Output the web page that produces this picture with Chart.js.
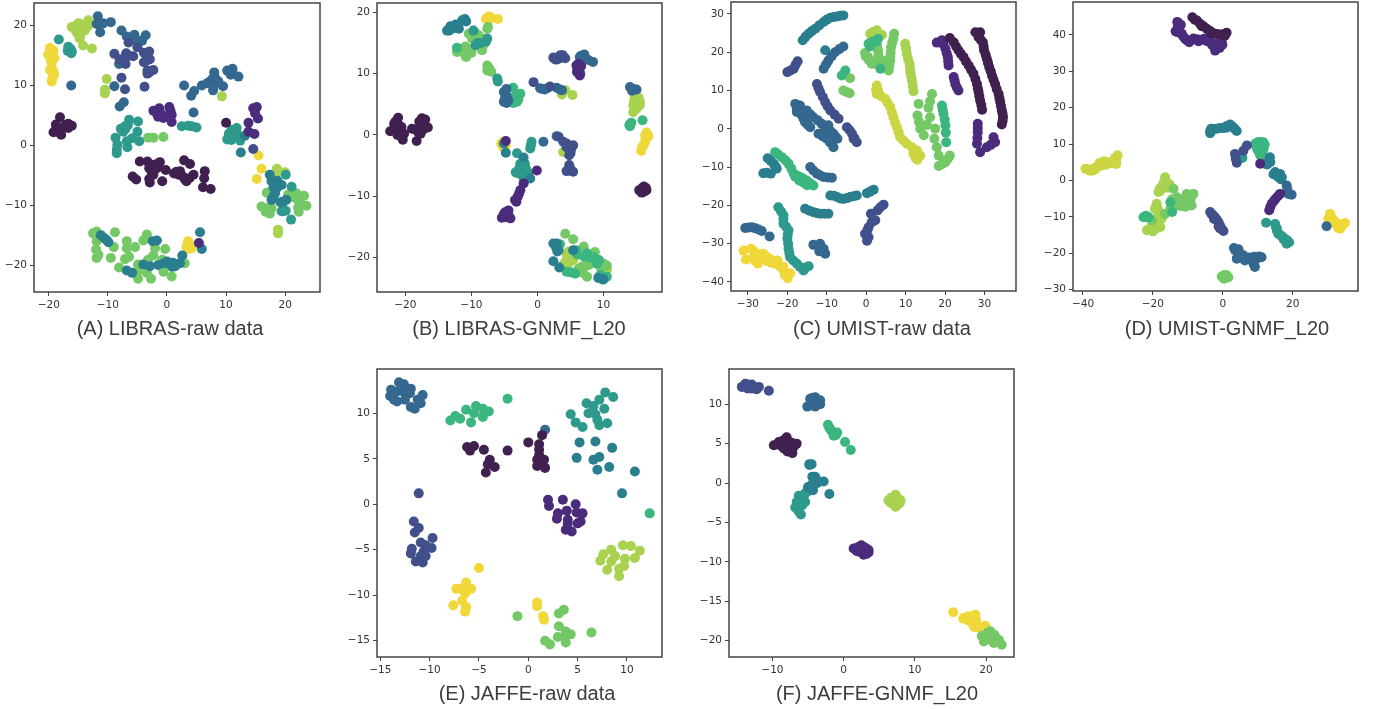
<!DOCTYPE html>
<html>
<head>
<meta charset="utf-8">
<title>t-SNE panels</title>
<script src="https://cdn.jsdelivr.net/npm/chart.js@4/dist/chart.umd.js"></script>
<style>
  html, body { margin: 0; background: #fff; }
  .panel { position: absolute; }
  .caption { position: absolute; font-family: "Liberation Sans", Arial, sans-serif; font-size: 20px; color: #3d3d3d; white-space: nowrap; transform: translateX(-50%); }
</style>
</head>
<body>
<script>
// class colours, dark to bright
const viridis = ['#40204f', '#4a2b7c', '#41508b', '#35688f', '#2a7f8e', '#2e9a8b', '#3bb67f', '#74c866', '#a8d24f', '#ccd542', '#f0d83a'];

const captions = ['(A) LIBRAS-raw data', '(B) LIBRAS-GNMF_L20', '(C) UMIST-raw data', '(D) UMIST-GNMF_L20', '(E) JAFFE-raw data', '(F) JAFFE-GNMF_L20'];

// A: each row of points is x,y,x,y... for the class on the same row of the class list
const aClass = [0, 1, 2, 3, 4, 5, 7, 8, 10];
const aPoints = [
  [-18.1,4.7,-18.8,3.5,-19.2,2.2,-18.6,2.3,-17.9,1.8,-16.7,3.6,-16.1,3.3,-16.7,2.9,-18.7,3,-17.2,3.4,-18.3,2.8,-4.6,-2.7,-3.3,-2.7,-2,-3.2,-1.2,-2.8,-3,-3.8,-1.7,-3.8,-.2,-4.1,-2.3,-4.9,-2.9,-6.2,-5.8,-5.2,-5.2,-5.7,-.8,-6,1.2,-4.7,2.2,-4.3,2.9,-2.5,3.9,-3.1,2.7,-5.2,3.3,-6,4.5,-4.9,6.4,-4.3,6.3,-5.5,6.1,-7,7.4,-7.3,10,3.8,-2.5,-3.4,-1.5,-3.4,-2.6,-4.4,-3,-5.6,2,-4.9,3,-5.6,3.8,-5.5,1.6,-4.4],
  [-1.3,6.2,-2.3,5.8,-.9,5.1,-.6,4.6,.4,6.4,.8,5.1,.8,3.9,14.6,6.2,15.2,6.4,14.9,5.4,15.4,4.5,13.8,3.8,13.8,2.3,14.8,1.9,5.4,-16.3,-1.7,5.3,-1.2,5.6,.6,5.8,-1.5,4.8],
  [-6.5,17.2,-8.9,15.3,-6.9,15.4,-8,14.4,-5.7,14.9,-7,13.6,-5,16.4,-3.9,15.5,-3,15.7,-2.9,14.4,-3.9,13.9,-3.3,12.5,-2.3,12.6,-3.3,12,-7.7,11.3,-7.1,9.4,-3.8,9.8,14.6,-.6,-6.4,15,-7.5,14.2,-3.4,15,-3.4,14.2,-3,12.2],
  [-7.7,19.2,-6.8,18.2,-5.5,18.5,-5.5,17.7,-4.2,17.5,-3.6,18.4,-8.9,9.9,-16.2,10,-8.1,13.6,2.9,10,4.6,9.1,4.1,8.3,5.9,10,6.8,10.4,7.6,11,8.7,10.7,8,12.2,7.8,9.2,9.5,9.9,10.2,12.5,11.1,12.8,10.8,11.8,12.1,11.5,4.5,5.5,-11.7,21.6,-11.3,18.9,-11.9,20.3,-10.8,20.4,-9.5,20.6,-8,6.5,-7.3,7.2,-5.9,18,-4.8,17.5,7.2,10.6,8,10.2,8.2,11.2,7.9,9.8,11,12.2],
  [17.4,-4.9,17.7,-6,18.6,-7.1,19.4,-6.6,18.3,-8,17.7,-9.1,19.7,-9.4,20.2,-9.1,2.6,-18.4,5.6,-14.5,5.9,-17.3,12.5,-1.2,13.2,1.6,-10.6,-15.5,-9.9,-16.2,-6.8,-20.9,-5.9,-21.3,-2.9,-20.2,-1.5,-20,0,-19.4,.5,-19.9,1.4,-20.2,2.2,-19.7,-1.7,-15.9,-2.4,-16,-4,-19.9,18,-7,18.4,-6.3,18,-8.5,19.2,-9.5,18.7,-5.9,-11.2,-15,-10.2,-15.8,-.5,-19.7,.9,-20.3,1,-19.6],
  [-7.1,3.2,-7.4,2.3,-6.4,4.3,-4.9,4,-5,2.3,-8.7,1.3,-5.9,1.2,-6.8,.7,-6.7,-.3,-8.4,.1,-8.5,-.7,-8.5,-1.3,-4.7,.7,2.5,3.2,3.6,3.3,4.2,3.2,5,3,10.4,1.4,11.2,2.1,11.8,2.9,10.9,.9,12.4,.8,10.2,1,-16.6,16,-16.7,16.5,-16.1,15.7,-18.3,17.7,19.4,-11,20.1,-10.9,21,-12.4,21.1,-6.9,20.1,-4.9,-7,2.8,-6.6,3.4,-7.8,2.8,11,1.5,10.5,2,11.4,1.3,11.8,2.1,11,2.6,-16.3,16.1,-16.8,15.8,-16.2,15.4,19.7,-11],
  [-3.2,1.3,-2.3,1.3,-.6,1.4,16,-10.2,16.9,-10.5,17.7,-10.5,17.4,-11.4,20.5,-8.2,21.9,-8,23.2,-8.4,22.2,-9.1,23.6,-10.1,22.3,-11.1,22.2,-10.4,16.9,-7.9,-11.9,-14.4,-12.5,-14.7,-11.9,-16,-12,-17.4,-11.6,-18.3,-11.9,-18.8,-8.8,-14.5,-9,-17,-6.8,-16,-6.8,-17.2,-5.4,-17,-3.4,-14.9,-4,-15.9,-6.4,-18.6,-7.1,-19,-9.5,-18.8,-8.1,-20.4,-4.9,-19.9,-5,-21.1,-4.9,-22.3,-3.4,-21.3,-2.7,-22.3,-3.2,-19.1,-2.3,-18.4,-2,-17.2,-.3,-17.3,-.6,-21.1,.8,-21.9,-.8,-19.1,3,-19.7,16.7,-11.1,22.5,-8.9,21.5,-8.7],
  [-16.1,19.8,-15,20.4,-13.3,20.9,-15.5,19.3,-14.7,18.8,-14.2,19.6,-13.4,19.9,-14.8,17.9,-14.2,16.7,-12.7,16.2,-10.2,11.1,-10.5,9.3,-10.5,8.7,9.3,8.2,18.8,-14.1,18.8,-14.7,18.6,-3.9,20,-4.5,18.4,-4.9,-15.3,20,-14.7,19.3,-13.9,19.2,-14.5,20.2,-13.5,20.2,-15.2,18.8,-14.7,18.2,-15.6,19.9],
  [-19.8,16.3,-20.1,15.2,-19,14.6,-19.5,13.8,-19.8,12.6,-19.1,11.8,-19.5,10.7,-19.7,15.6,15.5,-1.7,16,-3.9,15.2,-5.6,3.6,-16,3.3,-17,4.2,-17.2,-19.5,13,-19.7,14.3,-19.2,12.3,-19.4,11.2,-19.2,15.8,3.9,-16.6,3.5,-16.5,4,-16.9,3.7,-17.3]
];

const bClass = [0, 1, 2, 3, 4, 5, 6, 7, 8, 10];
const bPoints = [
  [-21.1,2.8,-21.7,1.8,-21,1.6,-22.3,.6,-21.5,.8,-20.7,.5,-21.2,0,-20.2,.2,-20.4,-.8,-19,1,-18.3,-1,-17.5,2.7,-17,2.5,-17.7,1.6,-18.1,.5,-16.6,1.2,-17.2,1,-17.7,.2,15.8,-8.7,16.5,-9,15.8,-9.4,15.4,-9,16.1,-8.4,-21.5,2.2,-20.9,1,-20.6,1.3,-21,.4,-20.6,-.3,-17.9,2.2,-17.4,.8,-17.8,1.2,-18.5,.9,15.9,-9,16.2,-9.2,16.4,-8.6,15.6,-9.2],
  [-4.9,-13.4,-5.4,-13.5,-4.4,-12.3,-4.1,-13.6,-4.9,-12.6,-3.4,-10.6,-3,-10.1,-2.6,-9,-2.1,-7.9,-4.8,-1,-.1,-5.8,6.2,11.6,6.4,9.7,6.3,10.8,-4.7,-13,-4.4,-13,-5.1,-12.9,-4.6,-12.7,-3.2,-10.9,-2.8,-9.6,6.6,11.2,5.9,11.3,6,10.2],
  [2.4,12.6,3.2,12.7,3.8,13,2.7,12.3,3.4,12.5,-.6,8.6,1.9,7.9,4.8,-5.8,5.4,-6,4.8,-4.9,4.4,-5.9,4.7,-2,4.8,-3.3,5.4,-1.7,3.9,-1.1,3.2,-.3,3,12.3,3.5,13,4.2,12.5,5,-3,5.1,-2.2,4.4,-2,4.9,-5.3,4.4,-1.4,5,-2.6],
  [6.4,12.7,7.2,12.4,7.7,12.2,8.4,11.9,6,10.5,.7,7.5,.4,7.6,2.9,7.7,3.7,7.3,.9,-1.1,14,7.8,14.5,7.5,15,7.4,2.9,-.2,-5.1,7,-5.1,5.4,-4.4,5.6,-4.7,7.5,6.8,12.1,6.6,12.9,7.1,13.1,6.5,10,1.1,7.4,1.5,7.6,3.4,7.4,14.3,7.2,-4.7,6.4,-4.9,6.1,-4.7,5.2],
  [-13.7,17,-13.2,17.7,-12.4,18,-11.9,17.3,-11,18.9,-11.4,18.7,-13.4,17,2.4,-17.7,2.9,-17.7,3.2,-18.8,2.4,-20.6,3.3,-21.6,-4.8,-2.9,-5.1,-1.4,-2.1,-3.7,-1.1,-7.1,5.4,-18.8,9.2,-23.3,10,-23.5,-12.7,17.4,-13.1,17.3,-12,17.8,-12.3,17.6,-10.8,18.5,2.8,-18.3,3,-19],
  [-3.1,-3,-1,-1.7,-.9,-1.1,-1.1,-2.2,-2.6,-4.7,-1.9,-4.7,-2.4,-5.5,-3.1,-6.2,-1.9,-6.3,-1.4,-6.3,-2.6,-6.3,-2.2,-6.8,-9.4,14.6,-9.7,17,-7.6,15.7,-6.1,9.2,-6,8.7,-2.6,-5.1,-2.2,-6,-3.3,-6.1,-2.8,-5.6,-1.8,-5.4,-1.6,-5.9,-9,15,-7.8,15.2,-8.6,15],
  [-3.7,7.7,-2.6,6.7,-3.9,5.9,-3.1,5.4,-3.4,5.7,14,1.7,13.9,1.6,15.9,2.4,-12.2,14.2,10,-23.1,10.5,-23.1,9,-21,8.5,-19.9,7.5,-19.3,4.4,-22.3,5.7,-22.6,3.4,-17.8,5.9,-18.8,-3.4,6.2,-3.2,6.6,-2.9,5.8,-3.7,5.2,14,1.4,14.2,2,7,-19.8,8,-20,9.3,-20.4,9.5,-22.8,9.9,-23.6,5,-22.4,6,-19.5],
  [-11.4,13.5,-10.8,12.7,-12.2,13.5,-10.4,13.8,-10.9,14.4,-10.4,16.5,-9.7,16.2,-8.9,16.2,-9.9,15.7,-7.6,17.3,-8.4,13.8,-7.6,11.3,-7.6,10.5,-7,10.3,4.2,-16.1,5.4,-17,7,-18.2,7.8,-21.2,6.7,-21.5,7.5,-23.1,10,-21,10.5,-21.3,8.7,-19.1,6.2,-21.8,-11,13.2,-11.6,14,-10.6,13.2,-11,13.9,-10,13.4,-9.4,16.6,-9.5,15.9,-8.6,15.8,-7.5,17.6,-7.3,10.8,6.9,-22.5,7.2,-21.3,9.6,-21.6],
  [14.7,6.2,15.5,5.4,14.5,4.8,15.2,4.6,14.5,3.7,14.7,5.4,4.7,-19,5.4,-20.4,4.4,-20.4,4,-21,10.5,-22,3.9,-2.8,3.7,6.6,4.2,7.3,5.3,6.5,-8.2,14.6,15,5.7,15.3,6.1,14.6,5.3,15.5,4.9,14.9,4.2,14.7,4.9,15.1,5,4.4,-19.4,5,-20.1,4.7,-20.9],
  [-7.6,19.1,-7.1,19.2,-6,18.9,-7.8,18.9,-5.1,-1.7,-5.5,-1.4,-4.8,-1.7,-5.2,-2,16.3,-.1,16.8,-.2,16.3,-1.1,15.8,-2,15.7,-2.6,16.5,.4,-7.4,19.3,-7.3,18.8,-5.2,-1.1,-5,-1.4,16.4,-.6,16.1,-1.6,16.6,0]
];

const cClass = [0, 0, 1, 2, 3, 4, 5, 6, 7, 8, 9, 10];
const cPoints = [
  [27.7,25.2,28.9,25.2,28.5,23.9,29.1,23.2,29.6,22.6,29.8,21.5,29.9,20.5,30.3,19.3,30.6,18.3,30.9,17.2,31.2,16.1,31.6,15,31.9,13.9,32.3,12.8,32.7,11.7,33.1,10.4,33.6,9.1,33.8,8,34,7,34.2,5.9,34.4,4.8,34.6,3.9,34.7,3,34.6,2,34.4,1.1],
  [21.2,23.7,22.2,22.6,22.8,21.5,23.4,20.5,24,19.6,24.7,18.7,25.3,17.6,26,16.5,26.6,15.4,27.2,14.4,27.7,13,28.1,11.7,28.3,10.6,28.5,9.6,28.7,8.5,28.9,7.4,29.2,6.2,29.4,5],
  [19.2,23.1,17.9,22.5,19.6,22,20.1,20.9,20.4,19.8,20.7,18.7,20.8,17.6,20.9,16.5,22.2,13.5,22.4,12.6,22.6,11.7,23,10.8,23.4,10,28.3,1.3,28.3,.2,28.3,-.9,28.2,-2.4,28.1,-3.9,28.9,-6.1,30.6,-4.8,31.6,-4.2,32.7,-3.5,32.3,-2.2],
  [-20,14.8,-18.4,15.7,-19.2,15.2,-17.9,16.7,-17.4,17.6,-12.5,11.7,-12.1,10.6,-11.7,9.6,-11,8.3,-10.4,7,-9.8,5.9,-9.1,4.8,-8,3.7,-7,2.6,-4.9,.4,-4.2,-.4,-3.6,-1.3,-3,-2.4,-2.4,-3.5,-3.2,-2.6,.3,-26.5,.6,-25.7,1.4,-24.4,2.3,-23.9,1.2,-22.2,2.9,-21.3,3.6,-20.5,4.4,-19.8,.6,-28.3,.2,-29.2,-.3,-27.4],
  [-10.8,15.7,-10.2,16.8,-9.6,17.8,-8.8,18.9,-7.9,20,-6.8,20.8,-5.8,21.5,-14.2,-10,-13.4,-10.9,-12.5,-11.7,-11.6,-12.2,-10.8,-12.6,-9.7,-12.7,-8.7,-12.8,-30.7,-25.9,-29.9,-25.8,-29,-25.7,-28.1,-26,-27.3,-26.3,-26.5,-26.7,-24.5,-28.1,-13.4,-30.3,-11.7,-30,-10.8,-31.3,-10.4,-32.6,-11.9,-32,-18,6.5,-16.8,6.1,-17.6,5.4,-17.6,4.4,-16.3,3.5,-15.9,2.6,-15.5,1.7,-14.8,1,-14.2,.4,-15.1,4.8,-14.2,3.8,-13.4,3,-12.3,2.2,-11.3,1.3,-10.6,.6,-10,0,-9.1,-.6,-8.3,-1.3,-7.8,-2,-7.3,-2.6,-12.1,-1.3,-11,-2,-10,-2.6,-9.2,-3.6,-8.3,-4.8,-9.6,.9],
  [-25,-7.7,-24.2,-8.4,-23.5,-9.1,-23,-9.8,-22.7,-10.4,-26.1,-11.6,-25.2,-11.5,-24.2,-11.7,-10.4,20.5,-9.1,-17.4,-8.2,-17.5,-7.4,-17.8,-6.6,-18.2,-5.8,-18.3,-4.9,-18.1,-4.1,-17.8,-3.2,-17.6,-2.4,-17.4,.2,-16.8,1,-16.4,1.9,-15.9,-15.5,-20.9,-14.4,-21.4,-13.4,-21.8,-12.6,-22,-11.7,-22.2,-10.6,-22.2,-9.6,-22.2,-16.1,23.1,-15.4,24,-14.6,24.8,-13.8,25.5,-12.9,26.1,-11.9,27,-10.8,27.9,-10,28.5,-9.1,29,-8.2,29.2,-7.4,29.3,-6.6,29.5,-5.8,29.6],
  [-22.3,-20.5,-21.6,-21.6,-21,-22.6,-21,-23.6,-21,-24.8,-20.3,-25.6,-19.7,-26.5,-19.9,-27.6,-20,-28.7,-19.8,-30,-19.7,-31.3,-19.5,-32.4,-19.3,-33.5,-18.5,-34.4,-17.6,-35.2,-16.8,-36.1,-15.9,-37,-14.6,-35.9,-15.3,-36.2],
  [-23.1,-6.1,-22.3,-6.7,-21.4,-7.4,-20.5,-8.2,-19.7,-9.1,-19,-10.4,-18.4,-11.7,-17.6,-12.2,-16.8,-12.6,-16,-13,-15.1,-13.5,-14.2,-14.2,-13.4,-14.8,-6.2,13.9,-5.3,15.2,.6,22.2,3.6,15.7,19.6,3.9,19.2,6.1,19.4,5,19.9,2.4,20.1,.9,20.2,-1,20.3,-3.5,-17,-13.5,-16,-14,-15,-14.7,-18,-12.5,.9,21.5,1.6,22.8,2.6,22.8,3,23.5],
  [-4.1,13.2,-5.8,10,-4.2,9.3,-5,9.6,-.3,19.8,.4,18.8,1,17.8,1.4,17,2.7,21.8,3.1,19.1,3,20.4,4,17.8,5.7,15.2,6.1,17.8,5.9,16.5,6.3,21.3,6.2,20,7.1,24.8,13.3,6.5,13,3.5,13.4,1.8,13.7,0,14.6,-1.7,15.8,5.5,16.7,9.1,16.2,7.2,16.2,3,15.4,1,17.5,0,17.3,-2.6,17.9,-4.8,18.4,-7,18.4,-9.7,19.3,-9.2,20.1,-8.7,20.7,-7.8,21.2,-7,-.1,18.9,.7,17.9,2.2,17,2.8,21,3.4,18.2,4.8,16.8,4.9,15.9,6.1,18.9,6.9,23.5,6.6,22.5],
  [1,24.8,2.7,25.7,4,24.5,1.8,25.3,9.9,22.2,10.1,21,10.3,19.6,10.6,18.3,11,17,11.1,15.9,11.2,14.8,11.4,13.7,11.6,12.6,11.8,11.2,12,9.8,1.4,24,2,24.6,3,24.3],
  [2.7,11.3,2.7,9.1,3.8,8.5,4.8,7.8,5.4,6.8,6.1,5.7,6.5,4.3,6.9,3,7.3,1.7,7.8,.4,8.2,-.9,8.6,-2.2,9.4,-3,10.3,-3.9,11.6,-4.8,12.9,-5.7,13,-6.9,13,-8.1,12.5,-7,12,-6.5,13.7,-7,12.5,-7.6,3,10,2.5,10.2],
  [-31.1,-31.8,-29.2,-31.3,-30.5,-34.1,-28.5,-32,-27.7,-32.6,-27.5,-35.2,-27.2,-33.8,-26.1,-32.6,-25.4,-33.3,-24.5,-33.9,-23.8,-34.6,-23.1,-35.2,-22.5,-34.4,-21.8,-36,-21,-37,-20.1,-37.9,-19.9,-39,-19.3,-37.7,-28.5,-33.5,-26.5,-34,-25.2,-34.5,-24,-35,-28.2,-34.5,-21,-36,-20.6,-38.3]
];

const dClass = [0, 1, 1, 2, 3, 4, 5, 6, 7, 8, 9, 10];
const dPoints = [
  [-8.7,44.9,-7.4,44,-6.5,43.1,-5.5,42.4,-4.6,41.7,-3.6,41.1,-2.7,40.5,-1.7,40.3,-.8,40.1,.2,40.2,1.1,40.6,-8,44.2,-6,42.4,-3.2,40.5,.6,39.8],
  [-8.4,39,-7.4,38.8,-6.5,38.5,-5.7,38.8,-5,39,-4.3,38.5,-3.6,38,-2.9,37.8,-2.2,37.6,-7,38.3,-4.5,38.3,-3,37.2],
  [-12.7,43.1,-12.9,42,-13.1,40.8,-12.3,41,-11.7,40.3,-11.3,39.6,-10.8,39,-10.2,38.5,-9.6,38,-.3,38,-.8,37.3,-1.2,36.7,-1.7,36.2,-2.2,35.7,13.3,-8.2,13.6,-7.3,14,-6.4,14.5,-5.8,15,-5.2,15.7,-4.4,16.4,-3.7,10.7,4.6,-13.5,41,-12.5,40.7,-12,42.8,-13,43.6,-.9,36.4,-.1,37.3],
  [-3.6,-8.7,-2.9,-9.4,-2.2,-10.1,-1.7,-10.8,-1.2,-11.5,-.8,-12.4,-.3,-13.3,.2,-13.9,3.5,7.3,4,4.9,3.7,6,6.9,9.6,5.9,8.2,-3.2,-9.3,-.8,-13.2,-1.2,-12.6,-2.5,-10.6],
  [29.7,-12.6,18.3,-1.4,18.5,-2.5,18.8,-3.7,19.7,-3.9,3.5,-19.2,4.5,-19.7,5.9,-20.6,4,-21.5,5.2,-21,6.9,-21.5,8.3,-22,9.2,-23.8,8.8,-22.9,11.1,-21.1,9.7,-21.5,3.2,-18.6,5.2,-20.4,6,-21,7.5,-21.2,4.7,-20.9,6.3,-22,4.5,-18.9,10.4,-20.9,9,-21,8.9,-23],
  [-3.6,13.7,-2.7,14.1,-1.7,14.2,-.8,14.4,.2,14.4,1.2,15,2.1,15.4,3,14.6,4,13.6,-3.6,13,15,2.3,16.4,1.8,15.9,.9,16.9,.9,14.5,1.7,13,5,12,4.6,13.5,6.4,-3.3,14.2,1,14.5,2.6,14.9,3.4,14.2,15.2,1.7,15.8,1.3,16.7,.3,13.6,5,12.7,4.4],
  [12.4,-11.6,15.2,-12.8,15.5,-13.8,15.9,-14.7,16.6,-15.1,17.3,-15.6,18.2,-16.3,19,-17,18.3,-17.4,5.6,6.2,15,-12,15.5,-13.2,17.4,-16.2,18.5,-16.6],
  [9.7,9.6,11.6,10.5,11.1,9.2,10.7,6.9,11.6,6.4,9.2,10,10.5,10.6,-22.7,-10.1,-21.2,-10.1,-15,-6,-14.5,-8.7,10,10.5,10.2,9,10.9,8.5,12,9.9,11.3,7.8,10.2,8,9.8,8.7,11.7,8.7,-21.8,-10.1,-22,-9.7],
  [-.3,-26.4,1.1,-26.1,1.6,-26.6,.4,-27,-13.1,-6.4,-11.2,-6.4,-9.3,-5.5,-10.3,-3.7,-8.4,-3.7,-8.9,-6.9,-14.1,-2.3,-13.1,-4.6,-15,-7.8,-20.3,-11,-16.5,-9.2,-12.2,-6.8,-12,-7,-10,-6,-11,-5,-9,-4.5,-12,-5.8,-10.7,-7.2,-13.5,-7,-14.5,-5.2,0,-26.7,1,-26.6,.5,-26],
  [-18.9,-6.4,-19.4,-7.8,-18.4,-9.2,-18.4,-11,-20.8,-13.3,-19.4,-13.3,-21.7,-13.7,-17.9,-12.8,-16.5,.9,-16,-.5,-17.4,-1.8,-18.4,-3.2,-15.2,-1.1,-17.9,-2.8,-19,-7,-18.5,-8,-19,-12.8,-20.5,-12.8,-18.5,-13,-20,-14,-17.5,-10.5,-17.4,-9.6,-17,-.8,-18,-2.2,-16.2,-.8,-15.8,-2],
  [-39.3,3.2,-38.3,3,-37.4,2.7,-36,3.7,-34.6,4.6,-33.7,4.8,-32.7,5,-31.6,5.2,-30.5,5.5,-30.1,6.9,-36.7,3.4,-35.3,4.8,-38,2.7,-36.5,3,-35,4,-33.5,4.3,-32,4.8,-30.5,4.5,-30.8,6.2,-34,5.3],
  [30.7,-9.2,30.2,-10.5,31.6,-11.5,32.6,-12.4,33.5,-13.3,35,-11.7,34,-12.4,31,-10,31.3,-10.6,32.1,-11.2,33,-13,33.8,-13.1,34.6,-12,30.6,-10.7,33.2,-12]
];

const eClass = [0, 1, 2, 3, 4, 5, 6, 7, 8, 10];
const ePoints = [
  [-6.2,6.3,-5.9,5.9,-5.5,6.4,-4.5,6,-2.1,5.9,-3.9,4.9,-4.1,4.4,-3.4,4.1,-4.3,3.5,0,6.8,1.4,7.6,1.1,6.6,1.1,6,1.1,5.4,.9,4.9,1.6,4.9,.9,4.2,1.7,4],
  [2,.5,2.1,-.2,3.5,.5,4.8,0,3,-1,2.9,-1.6,3.9,-.7,4.9,-.9,5.5,-1,4,-1.7,5.3,-1.9,3.8,-2.8,4.4,-3,4,-2.1,5,-2.1],
  [-11.1,1.2,-11.6,-1.9,-11.1,-2.6,-11.5,-3.1,-9.7,-3.7,-10.9,-4.2,-10.4,-4.5,-11.8,-4.9,-9.8,-4.8,-11.9,-5.4,-10.6,-5.2,-10.9,-5.7,-11.4,-6.3,-10.4,-5.7,-10.7,-6.4],
  [-13.1,13.4,-12.6,13.2,-13.9,12.6,-11.9,12.7,-13.3,12.4,-12.7,12.4,-14,11.9,-12,12.2,-13.6,11.5,-13.3,11.3,-12.5,11.5,-10.7,12,-11.2,11.5,-10.9,11.1,-11.9,10.7,-11.5,10.5,1.7,8.2],
  [8.5,6.2,5.2,6.8,6.8,6.9,4.9,5.1,6.6,4.9,7.2,5.2,7,3.8,8.2,4.1,10.8,3.6,9.5,1.2],
  [4.3,9.9,4.8,9,5.5,8.5,5.9,11.1,6.6,10.8,6.1,10,6.8,9.9,7,9.3,7.2,8.7,8,8.9,7.7,10.5,7.2,11.5,7.8,12.3,8.6,11.8],
  [-2.1,11.6,-7.9,9.2,-7.4,9.7,-6.9,9.4,-6.3,10.4,-5.8,9,-5.3,10.8,-5.5,10,-4.6,10.5,-4,10.2,-4.6,9.6,12.3,-1],
  [-1.1,-12.3,3.1,-12,3.6,-11.6,3.1,-13.4,3.8,-14,3,-14.6,4.3,-14.3,3.8,-15.2,1.7,-15,2.2,-15.4,6.4,-14.1,3.6,-14.6],
  [9.6,-4.5,10.4,-4.6,11.3,-5.1,8.4,-5,7.6,-5.5,8.8,-5.7,10.8,-5.9,9.8,-6,7.3,-6.2,8.4,-6.3,9.7,-6.8,8,-7.2,9.2,-7.1,9.2,-7.9],
  [-5,-7,-6.3,-8.6,-7.3,-9.3,-6.8,-9.3,-5.8,-9.3,-6.4,-9.8,-6.7,-10.6,-7.6,-11.1,-6.3,-11.3,-6.4,-11.8,.9,-10.8,.9,-11.2,1.5,-12.3,1.6,-12.7]
];

const fClass = [0, 1, 2, 3, 4, 5, 6, 7, 8, 10];
const fPoints = [
  [-9.8,4.8,-9.1,5.2,-8,5.8,-8.2,5,-8.7,4.7,-7.3,5.1,-6.6,5,-8,4.3,-7.2,3.8,-8.5,5.4,-7.6,4.6,-9.3,4.9,-8.4,4.4,-7.8,5.3,-8.9,5.2,-7.9,4,-8.6,5.3,-7,4.6],
  [1.4,-8.3,2.1,-8.1,2.8,-8.1,3.5,-8.5,2.8,-9.1,2.1,-8.7,3.5,-8.8,2.8,-8.5,1.9,-8.3,2.4,-8.6,3.2,-8.3,3,-8.8,2.5,-7.9,1.8,-8.6,3.2,-9],
  [-13.8,12.6,-14.3,12.2,-13.3,12.2,-12.6,12,-11.9,12.2,-12.9,12.5,-10.5,11.7,-13.5,12,-13,12,-12.2,11.9,-14,12.3,-13.5,12.5],
  [-5.1,9.7,-4.7,10.7,-4,10.9,-3.3,10.5,-3.3,10,-4.2,10.2,-4.5,10.2,-3.9,10.4,-3.5,10.2,-4.4,10.8,-3.8,10.1,-4,9.7],
  [-4.8,2.4,-4.4,.8,-4,.8,-4.6,-.3,-2.8,.2,-4.3,-.9,-3.7,0,-2,-1.4,-4.8,2.3,-4.5,2.4,-4.3,0,-5,-.5,-3.9,.6],
  [-5.4,-1.3,-6.3,-1.6,-6.6,-2.4,-5.4,-2.4,-6.8,-3.1,-6.3,-3.6,-6,-4,-5.8,-2.8,-6,-1.9,-6.5,-2.9,-6.1,-2.4,-5.6,-1.7,-6.5,-3.3,-5.1,-1.1],
  [-2.2,7.4,-1.9,6.9,-1.4,6.4,-.9,6.4,-1.4,6,.2,5.2,1,4.2,-2,7,-1.7,6.6,-1.1,6.1],
  [19.4,-19.4,19.7,-20.1,20.6,-18.8,21.3,-19.5,21.1,-20.3,21.8,-19.9,22.2,-20.5,20.2,-19,20.9,-19.6,21.1,-19.2,20.3,-19.8,21.6,-20.2,19.8,-19.7],
  [6.3,-2.2,7.3,-1.5,8,-2.2,7.3,-3,6.8,-2.6,7.7,-2.7,7,-1.8,6.9,-2.2,7.4,-2.1,7.6,-1.9,6.6,-2.5,7.9,-2.5,7.2,-2.8,7.1,-2.4,7.7,-2.2,6.6,-1.9],
  [15.4,-16.4,16.8,-17.2,17.4,-17.4,18.5,-16.7,18.6,-17.4,18.7,-18.2,19.9,-18.1,17.5,-16.9,18.4,-17.2,18,-17.2,18.2,-18,19,-18.3,16.9,-17.1,18.4,-18.3]
];

const aXTicks = [-20, -10, 0, 10, 20];
const aYTicks = [-20, -10, 0, 10, 20];
const bXTicks = [-20, -10, 0, 10];
const bYTicks = [-20, -10, 0, 10, 20];
const cXTicks = [-30, -20, -10, 0, 10, 20, 30];
const cYTicks = [-40, -30, -20, -10, 0, 10, 20, 30];
const dXTicks = [-40, -20, 0, 20];
const dYTicks = [-30, -20, -10, 0, 10, 20, 30, 40];
const eXTicks = [-15, -10, -5, 0, 5, 10];
const eYTicks = [-15, -10, -5, 0, 5, 10];
const fXTicks = [-10, 0, 10, 20];
const fYTicks = [-20, -15, -10, -5, 0, 5, 10];

const axisColor = '#444';
const frame = {
    id: 'frame',
    afterDraw(chart) {
        const { ctx, chartArea: a } = chart;
        ctx.save();
        ctx.strokeStyle = axisColor;
        ctx.lineWidth = 1.5;
        ctx.strokeRect(a.left, a.top, a.right - a.left, a.bottom - a.top);
        ctx.restore();
    }
};

function axis(range, ticks, fit) {
    return {
        min: range[0],
        max: range[1],
        afterBuildTicks: s => { s.ticks = ticks.map(v => ({ value: v })); },
        afterFit: fit,
        grid: { drawOnChartArea: false, drawTicks: true, tickLength: 4, tickColor: axisColor, tickWidth: 1 },
        border: { display: false },
        ticks: {
            autoSkip: false,
            maxRotation: 0,
            padding: 3,
            color: '#333',
            font: { family: 'DejaVu Sans', size: 10.5 },
            callback: v => String(v).replace('-', '\u2212')
        }
    };
}

function drawPanel(box, xRange, yRange, xTicks, yTicks, classes, points, caption, capX, capY) {
    const pad = 14, left = 40, bottom = 26;
    const wrap = document.createElement('div');
    wrap.className = 'panel';
    wrap.style.left = (box[0] - left) + 'px';
    wrap.style.top = (box[1] - pad) + 'px';
    const canvas = document.createElement('canvas');
    const w = box[2] - box[0] + left + pad, h = box[3] - box[1] + pad + bottom;
    canvas.width = w;
    canvas.height = h;
    canvas.style.width = w + 'px';
    canvas.style.height = h + 'px';
    wrap.appendChild(canvas);
    document.body.appendChild(wrap);

    new Chart(canvas.getContext('2d'), {
        type: 'scatter',
        data: {
            datasets: classes.map((c, i) => {
                const flat = points[i], pts = [];
                for (let k = 0; k < flat.length; k += 2) pts.push({ x: flat[k], y: flat[k + 1] });
                return { data: pts, backgroundColor: viridis[c], borderWidth: 0, pointRadius: 5 };
            })
        },
        options: {
            responsive: false,
            animation: false,
            layout: { padding: { left: 0, top: pad, right: pad, bottom: 0 } },
            plugins: { legend: { display: false }, tooltip: { enabled: false } },
            scales: {
                x: axis(xRange, xTicks, s => { s.height = bottom; }),
                y: axis(yRange, yTicks, s => { s.width = left; })
            }
        },
        plugins: [frame]
    });

    const label = document.createElement('div');
    label.className = 'caption';
    label.textContent = caption;
    label.style.left = capX + 'px';
    label.style.top = capY + 'px';
    document.body.appendChild(label);
}

drawPanel([34, 3, 320, 292], [-22.5, 25.9], [-24.5, 23.8], aXTicks, aYTicks, aClass, aPoints, captions[0], 170, 317);
drawPanel([377, 3, 662, 292], [-24.3, 18.85], [-25.6, 21.5], bXTicks, bYTicks, bClass, bPoints, captions[1], 519, 317);
drawPanel([731, 2, 1016, 291], [-34.3, 38], [-42.35, 33.1], cXTicks, cYTicks, cClass, cPoints, captions[2], 882, 317);
drawPanel([1073, 2, 1358, 291], [-42.86, 38.7], [-30.4, 49.07], dXTicks, dYTicks, dClass, dPoints, captions[3], 1227, 317);
drawPanel([377, 369, 662, 657], [-15.33, 13.55], [-16.79, 14.87], eXTicks, eYTicks, eClass, ePoints, captions[4], 527, 682);
drawPanel([729, 369, 1014, 657], [-16.1, 23.93], [-22.07, 14.47], fXTicks, fYTicks, fClass, fPoints, captions[5], 877, 682);
</script>
</body>
</html>
